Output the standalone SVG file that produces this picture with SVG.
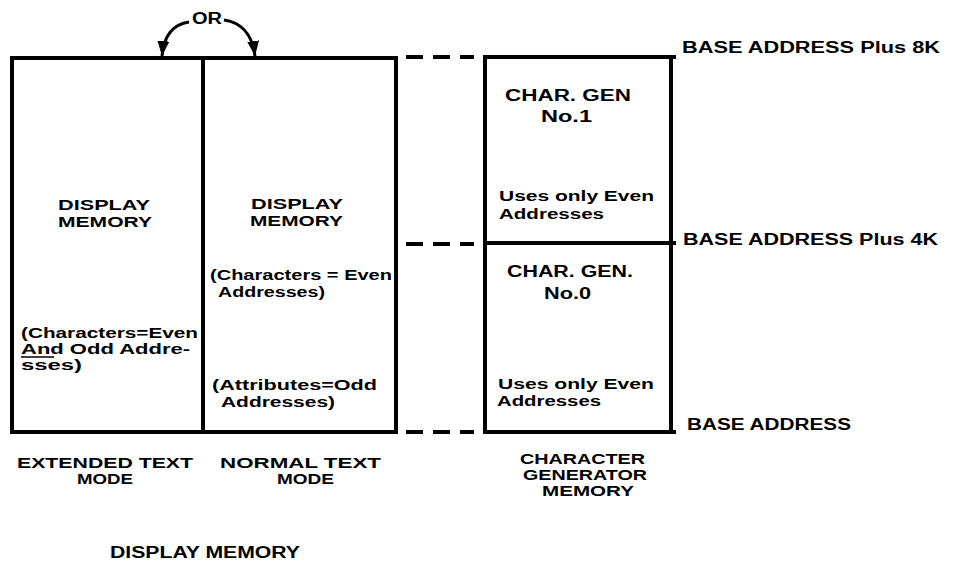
<svg xmlns="http://www.w3.org/2000/svg" width="953" height="563" viewBox="0 0 953 563">
<style>
.t{font-family:"Liberation Sans",Arial,Helvetica,sans-serif;font-weight:bold;font-size:16px;fill:#000}
.s{font-size:14px}
.box{fill:none;stroke:#000;stroke-width:4}
.ln{stroke:#000;stroke-width:4;fill:none}
.dash{stroke:#000;stroke-width:4;stroke-dasharray:17 10;fill:none}
.arc{stroke:#000;stroke-width:3;fill:none}
</style>
<defs>
<marker id="ah" markerUnits="userSpaceOnUse" markerWidth="16" markerHeight="14" refX="15" refY="6" orient="auto">
<path d="M0,0 L15,6 L0,12 Z" fill="#000"/>
</marker>
</defs>
<rect width="953" height="563" fill="#fff"/>

<g id="extended-text-mode">
<rect class="box" x="12" y="58" width="191" height="374"/>
<text class="t s" x="58" y="210" textLength="92" lengthAdjust="spacingAndGlyphs">DISPLAY</text>
<text class="t s" x="58" y="227" textLength="94" lengthAdjust="spacingAndGlyphs">MEMORY</text>
<text class="t s" x="21" y="338" textLength="177" lengthAdjust="spacingAndGlyphs">(Characters=Even</text>
<text class="t s" x="21" y="354" textLength="169" lengthAdjust="spacingAndGlyphs">And Odd Addre-</text>
<line class="ln" x1="21" y1="357" x2="54" y2="357" style="stroke-width:1.5"/>
<text class="t s" x="21" y="370" textLength="61" lengthAdjust="spacingAndGlyphs">sses)</text>
<text class="t s" x="17" y="468" textLength="176" lengthAdjust="spacingAndGlyphs">EXTENDED TEXT</text>
<text class="t s" x="77" y="484" textLength="56" lengthAdjust="spacingAndGlyphs">MODE</text>
</g>

<g id="normal-text-mode">
<rect class="box" x="203" y="58" width="193" height="374"/>
<text class="t s" x="251" y="209" textLength="92" lengthAdjust="spacingAndGlyphs">DISPLAY</text>
<text class="t s" x="250" y="226" textLength="93" lengthAdjust="spacingAndGlyphs">MEMORY</text>
<text class="t s" x="210" y="280" textLength="182" lengthAdjust="spacingAndGlyphs">(Characters = Even</text>
<text class="t s" x="218" y="297" textLength="107" lengthAdjust="spacingAndGlyphs">Addresses)</text>
<text class="t s" x="212" y="390" textLength="165" lengthAdjust="spacingAndGlyphs">(Attributes=Odd</text>
<text class="t s" x="221" y="407" textLength="114" lengthAdjust="spacingAndGlyphs">Addresses)</text>
<text class="t s" x="220" y="468" textLength="161" lengthAdjust="spacingAndGlyphs">NORMAL TEXT</text>
<text class="t s" x="277" y="484" textLength="57" lengthAdjust="spacingAndGlyphs">MODE</text>
</g>

<g id="char-gen-1">
<rect class="box" x="485" y="57" width="186" height="186"/>
<text class="t" x="505" y="101" textLength="126" lengthAdjust="spacingAndGlyphs">CHAR. GEN</text>
<text class="t" x="541" y="122" textLength="51" lengthAdjust="spacingAndGlyphs">No.1</text>
<text class="t s" x="499" y="201" textLength="155" lengthAdjust="spacingAndGlyphs">Uses only Even</text>
<text class="t s" x="499" y="219" textLength="105" lengthAdjust="spacingAndGlyphs">Addresses</text>
</g>

<g id="char-gen-0">
<rect class="box" x="485" y="243" width="186" height="189"/>
<text class="t" x="507" y="277" textLength="126" lengthAdjust="spacingAndGlyphs">CHAR. GEN.</text>
<text class="t" x="544" y="299" textLength="47" lengthAdjust="spacingAndGlyphs">No.0</text>
<text class="t s" x="498" y="389" textLength="156" lengthAdjust="spacingAndGlyphs">Uses only Even</text>
<text class="t s" x="497" y="406" textLength="104" lengthAdjust="spacingAndGlyphs">Addresses</text>
<text class="t s" x="520" y="464" textLength="125" lengthAdjust="spacingAndGlyphs">CHARACTER</text>
<text class="t s" x="523" y="480" textLength="124" lengthAdjust="spacingAndGlyphs">GENERATOR</text>
<text class="t s" x="542" y="496" textLength="92" lengthAdjust="spacingAndGlyphs">MEMORY</text>
</g>

<g id="address-labels">
<text class="t" x="682" y="53" textLength="258" lengthAdjust="spacingAndGlyphs">BASE ADDRESS Plus 8K</text>
<text class="t" x="683" y="245" textLength="255" lengthAdjust="spacingAndGlyphs">BASE ADDRESS Plus 4K</text>
<text class="t" x="687" y="430" textLength="164" lengthAdjust="spacingAndGlyphs">BASE ADDRESS</text>
</g>

<g id="title">
<text class="t" x="110" y="558" textLength="190" lengthAdjust="spacingAndGlyphs">DISPLAY MEMORY</text>
</g>

<g id="connectors">
<line class="dash" x1="406" y1="57" x2="474" y2="57"/>
<line class="dash" x1="406" y1="244" x2="474" y2="244"/>
<line class="dash" x1="406" y1="432" x2="474" y2="432"/>
<line class="ln" x1="669" y1="57" x2="676" y2="57"/>
<line class="ln" x1="669" y1="243" x2="676" y2="243"/>
<line class="ln" x1="669" y1="432" x2="676" y2="432"/>
<path class="arc" d="M189,22 C175,24 164,34 162,56" marker-end="url(#ah)"/>
<path class="arc" d="M224,20 C239,22 252,32 255,56" marker-end="url(#ah)"/>
<text class="t" x="192" y="24" textLength="30" lengthAdjust="spacingAndGlyphs">OR</text>
</g>
</svg>
